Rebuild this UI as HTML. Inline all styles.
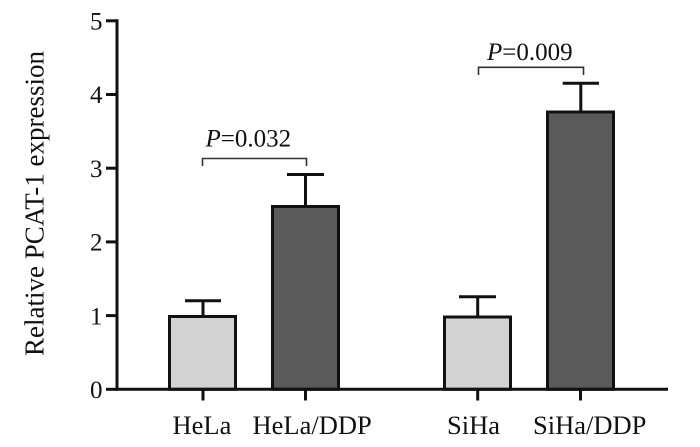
<!DOCTYPE html>
<html>
<head>
<meta charset="utf-8">
<style>
html,body{margin:0;padding:0;background:#fff;}
svg{display:block;}
text{font-family:"Liberation Serif","Times New Roman",serif;fill:#111;}
</style>
</head>
<body>
<svg width="700" height="447" viewBox="0 0 700 447" xmlns="http://www.w3.org/2000/svg">
  <rect width="700" height="447" fill="#fff"/>
  <!-- Y axis label -->
  <text transform="translate(43.5,203.5) rotate(-90)" text-anchor="middle" font-size="27">Relative PCAT-1 expression</text>

  <!-- Y tick labels -->
  <g font-size="25" text-anchor="end">
    <text x="102.5" y="29.5">5</text>
    <text x="102.5" y="103.2">4</text>
    <text x="102.5" y="177">3</text>
    <text x="102.5" y="250.7">2</text>
    <text x="102.5" y="324.4">1</text>
    <text x="102.5" y="398">0</text>
  </g>

  <!-- Y ticks -->
  <g stroke="#111" stroke-width="3">
    <line x1="106" y1="20.8" x2="117" y2="20.8"/>
    <line x1="106" y1="94.5" x2="117" y2="94.5"/>
    <line x1="106" y1="168.2" x2="117" y2="168.2"/>
    <line x1="106" y1="241.9" x2="117" y2="241.9"/>
    <line x1="106" y1="315.6" x2="117" y2="315.6"/>
    <line x1="106" y1="389.3" x2="117" y2="389.3"/>
  </g>

  <!-- Bars -->
  <g stroke="#111" stroke-width="3">
    <rect x="169.5" y="316.5" width="66" height="72.8" fill="#d3d3d3"/>
    <rect x="272.5" y="206.5" width="66" height="182.8" fill="#5a5a5a"/>
    <rect x="444.5" y="317" width="66" height="72.3" fill="#d3d3d3"/>
    <rect x="547.5" y="112" width="66" height="277.3" fill="#5a5a5a"/>
  </g>

  <!-- Error bars -->
  <g stroke="#111" stroke-width="3">
    <line x1="203" y1="300.7" x2="203" y2="315"/>
    <line x1="185" y1="300.7" x2="221" y2="300.7"/>
    <line x1="305.5" y1="174.5" x2="305.5" y2="205"/>
    <line x1="287" y1="174.5" x2="324" y2="174.5"/>
    <line x1="477.7" y1="296.7" x2="477.7" y2="315.5"/>
    <line x1="459" y1="296.7" x2="496" y2="296.7"/>
    <line x1="580.8" y1="83.3" x2="580.8" y2="110.5"/>
    <line x1="562.7" y1="83.3" x2="599" y2="83.3"/>
  </g>

  <!-- Axes -->
  <g stroke="#111" stroke-width="3" fill="none">
    <line x1="117" y1="19.3" x2="117" y2="390.8"/>
    <line x1="115.5" y1="389.3" x2="668" y2="389.3"/>
    <line x1="203" y1="389.3" x2="203" y2="400.5"/>
    <line x1="305.5" y1="389.3" x2="305.5" y2="400.5"/>
    <line x1="477.7" y1="389.3" x2="477.7" y2="400.5"/>
    <line x1="580.5" y1="389.3" x2="580.5" y2="400.5"/>
  </g>

  <!-- Significance brackets -->
  <g stroke="#333" stroke-width="1.6" fill="none">
    <polyline points="202.5,166 202.5,158.5 306.5,158.5 306.5,166"/>
    <polyline points="478.5,75 478.5,67.3 583.5,67.3 583.5,75"/>
  </g>
  <text x="205.5" y="146.7" font-size="25"><tspan font-style="italic">P</tspan>=0.032</text>
  <text x="487" y="60" font-size="25"><tspan font-style="italic">P</tspan>=0.009</text>

  <!-- X labels -->
  <g font-size="26.5">
    <text x="172.5" y="434">HeLa</text>
    <text x="252.5" y="434">HeLa/DDP</text>
    <text x="447" y="434">SiHa</text>
    <text x="533" y="434">SiHa/DDP</text>
  </g>
</svg>
</body>
</html>
